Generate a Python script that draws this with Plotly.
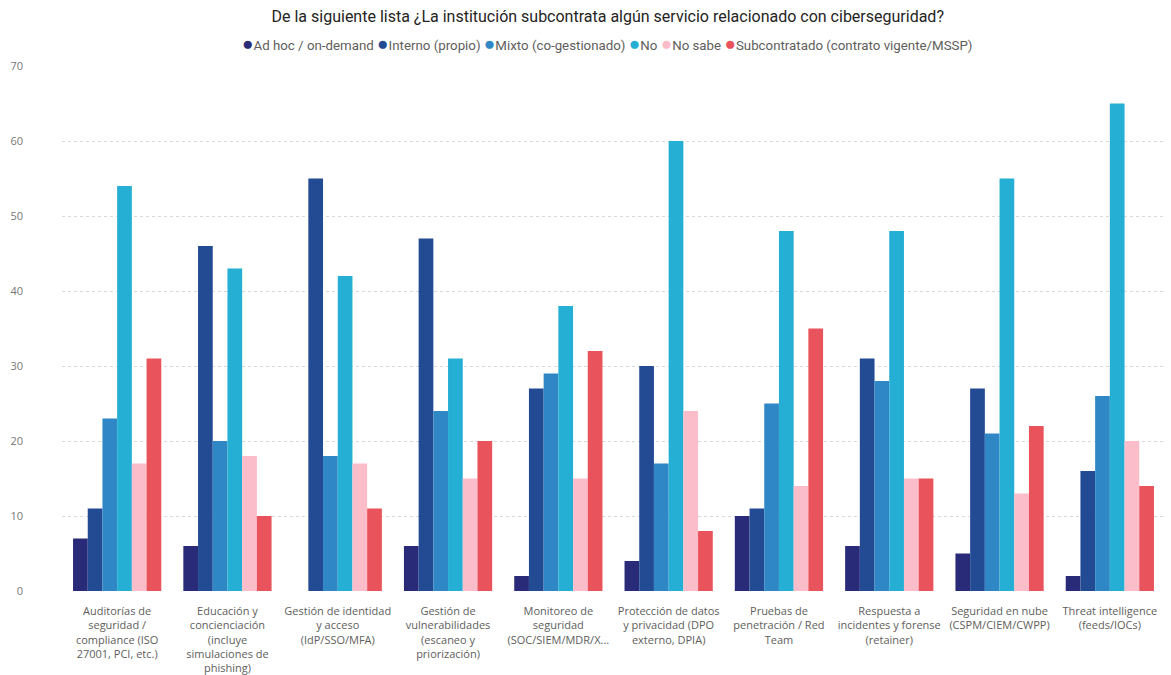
import plotly.graph_objects as go

categories = [
    "Auditorías de<br>seguridad /<br>compliance (ISO<br>27001, PCI, etc.)",
    "Educación y<br>concienciación<br>(incluye<br>simulaciones de<br>phishing)",
    "Gestión de identidad<br>y acceso<br>(IdP/SSO/MFA)",
    "Gestión de<br>vulnerabilidades<br>(escaneo y<br>priorización)",
    "Monitoreo de<br>seguridad<br>(SOC/SIEM/MDR/X...",
    "Protección de datos<br>y privacidad (DPO<br>externo, DPIA)",
    "Pruebas de<br>penetración / Red<br>Team",
    "Respuesta a<br>incidentes y forense<br>(retainer)",
    "Seguridad en nube<br>(CSPM/CIEM/CWPP)",
    "Threat intelligence<br>(feeds/IOCs)",
]

series_names = [
    "Ad hoc / on-demand",
    "Interno (propio)",
    "Mixto (co-gestionado)",
    "No",
    "No sabe",
    "Subcontratado (contrato vigente/MSSP)",
]

ad_hoc = [7, 6, None, 6, 2, 4, 10, 6, 5, 2]
interno = [11, 46, 55, 47, 27, 30, 11, 31, 27, 16]
mixto = [23, 20, 18, 24, 29, 17, 25, 28, 21, 26]
no = [54, 43, 42, 31, 38, 60, 48, 48, 55, 65]
no_sabe = [17, 18, 17, 15, 15, 24, 14, 15, 13, 20]
subcontratado = [31, 10, 11, 20, 32, 8, 35, 15, 22, 14]

colors = ["#292B78", "#224B93", "#2F88C5", "#25AFD4", "#FBBDC9", "#E9535B"]

values = [ad_hoc, interno, mixto, no, no_sabe, subcontratado]

fig = go.Figure()
for name, vals, col in zip(series_names, values, colors):
    fig.add_trace(go.Bar(x=categories, y=vals, name=name, marker_color=col,
                         marker_line_width=0, showlegend=False))

legend_text = " ".join(
    f'<span style="color:{c}; font-size:19px">●</span>{n}' for n, c in zip(series_names, colors)
)
fig.add_annotation(text=legend_text, xref="paper", yref="paper", x=0.494, y=1.042,
                   xanchor="center", yanchor="middle", showarrow=False,
                   font=dict(family="Roboto, sans-serif", size=13.3, color="#605E5C"))

fig.update_layout(
    width=1171, height=675,
    paper_bgcolor="white", plot_bgcolor="white",
    margin=dict(l=62, r=6, t=66, b=84),
    barmode="group", bargap=0.2, bargroupgap=0,
    font=dict(family="Open Sans, sans-serif", color="#605E5C"),
    title=dict(text="De la siguiente lista ¿La institución subcontrata algún servicio relacionado con ciberseguridad?",
               x=0.519, xanchor="center", y=0.975, yanchor="middle",
               font=dict(family="Roboto, sans-serif", size=16, color="#252423")),
    showlegend=False,
)
fig.update_xaxes(showgrid=False, tickfont=dict(size=11, color="#605E5C"), ticks="",
                 showline=False, zeroline=False, tickangle=0, automargin=False,
                 ticklabelstandoff=12)
fig.update_yaxes(range=[0, 70], dtick=10, showgrid=True, gridcolor="#D9D9D9",
                 griddash="dot", gridwidth=1, zeroline=False, automargin=False,
                 tickfont=dict(size=11, color="#777777"), ticklabelstandoff=38)

fig.write_html("out.html")
